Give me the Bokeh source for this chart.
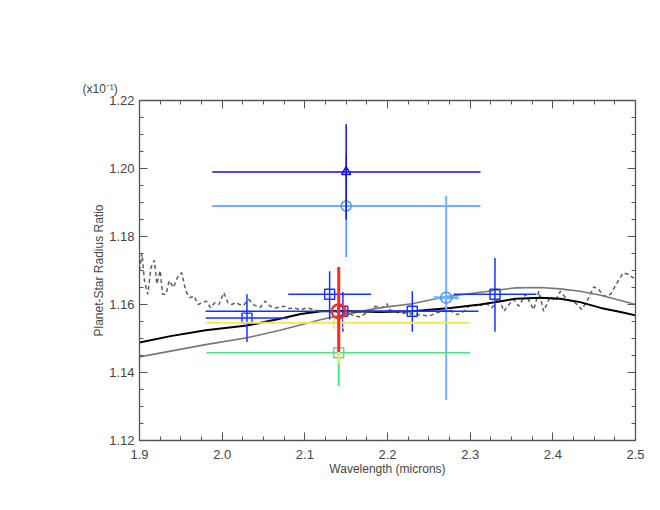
from bokeh.plotting import figure
from bokeh.models import (Range1d, FixedTicker, LinearAxis, ColumnDataSource,
                          CustomJSTickFormatter)
from bokeh.embed import file_html
from bokeh.resources import INLINE

# ---------------- data ----------------
x_ticks = [1.9, 2.0, 2.1, 2.2, 2.3, 2.4, 2.5]
y_ticks = [1.12, 1.14, 1.16, 1.18, 1.20, 1.22]

# noisy model spectrum (grey dashed)
dash_x = [1.900, 1.903, 1.906, 1.910, 1.914, 1.918, 1.921, 1.925, 1.928, 1.932, 1.936, 1.941,
          1.946, 1.951, 1.956, 1.9605, 1.966, 1.971, 1.976, 1.981, 1.986, 1.991, 1.996, 2.002,
          2.007, 2.012, 2.016, 2.021, 2.026, 2.032, 2.039, 2.046, 2.052, 2.058, 2.0645, 2.0746,
          2.081, 2.0867, 2.095, 2.103, 2.109, 2.115, 2.121, 2.127, 2.134, 2.141, 2.148, 2.155,
          2.161, 2.167, 2.175, 2.1855, 2.193, 2.1996, 2.2016, 2.2137, 2.225, 2.2379, 2.250,
          2.2601, 2.2742, 2.2843, 2.2923, 2.3004, 2.3105, 2.3185, 2.3266, 2.3347, 2.3407,
          2.3488, 2.3528, 2.3589, 2.367, 2.377, 2.383, 2.389, 2.397, 2.403, 2.409, 2.417,
          2.427, 2.435, 2.4435, 2.4496, 2.4556, 2.4617, 2.4698, 2.4778, 2.485, 2.492, 2.4972,
          2.500]
dash_y = [1.1700, 1.1750, 1.1670, 1.1630, 1.1710, 1.1730, 1.1660, 1.1700, 1.1630, 1.1630,
          1.1670, 1.1650, 1.1680, 1.1694, 1.1640, 1.1620, 1.1625, 1.1600, 1.1606, 1.1610,
          1.1590, 1.1605, 1.1600, 1.1635, 1.1605, 1.1600, 1.1606, 1.1600, 1.1598, 1.1615,
          1.1598, 1.1591, 1.1610, 1.1595, 1.1590, 1.1595, 1.1588, 1.1590, 1.1585, 1.1590,
          1.1586, 1.1582, 1.1580, 1.1580, 1.1576, 1.1580, 1.1575, 1.1571, 1.1566, 1.1563,
          1.1576, 1.1595, 1.1590, 1.1602, 1.1585, 1.1576, 1.1574, 1.1570, 1.1566, 1.1576,
          1.1585, 1.1570, 1.1580, 1.1600, 1.1595, 1.1605, 1.1590, 1.1620, 1.1580, 1.1605,
          1.1615, 1.1595, 1.1630, 1.1585, 1.1639, 1.1580, 1.1624, 1.1610, 1.1639, 1.1615,
          1.1605, 1.1585, 1.1620, 1.1652, 1.1644, 1.1624, 1.1630, 1.1664, 1.1693, 1.1688,
          1.1678, 1.1690]

# smooth model (black)
m1_x = [1.9, 1.9375, 1.98, 2.03, 2.07, 2.095, 2.12, 2.143, 2.19, 2.23, 2.276, 2.3125,
        2.355, 2.385, 2.409, 2.433, 2.458, 2.482, 2.5]
m1_y = [1.1488, 1.1507, 1.1524, 1.1538, 1.1558, 1.1572, 1.1580, 1.1581, 1.1578, 1.1580,
        1.1590, 1.1600, 1.1617, 1.1620, 1.1617, 1.1607, 1.1590, 1.1578, 1.1568]

# smooth model (grey)
m2_x = [1.9, 1.98, 2.03, 2.07, 2.12, 2.143, 2.19, 2.23, 2.27, 2.3125, 2.355, 2.385,
        2.409, 2.433, 2.458, 2.482, 2.5]
m2_y = [1.1446, 1.1482, 1.1502, 1.1524, 1.1556, 1.1568, 1.1590, 1.1602, 1.1623, 1.1636,
        1.1649, 1.1650, 1.1646, 1.1639, 1.1627, 1.1612, 1.1600]

# blue squares
sq_x = [2.03, 2.13, 2.146, 2.23, 2.33]
sq_y = [1.156, 1.163, 1.158, 1.158, 1.163]
sq_xlo = [1.98, 2.08, 1.98, 2.18, 2.28]
sq_xhi = [2.08, 2.18, 2.31, 2.28, 2.38]
sq_ylo = [1.149, 1.1556, 1.152, 1.152, 1.152]
sq_yhi = [1.163, 1.1698, 1.1637, 1.1639, 1.1737]

# dark-blue triangle
tri_x = [2.15]
tri_y = [1.199]
tri_xlo = [1.988]
tri_xhi = [2.3125]
tri_ylo = [1.185]
tri_yhi = [1.213]

# light-blue circles
lc_x = [2.15]
lc_y = [1.189]
lc_xlo = [1.988]
lc_xhi = [2.3125]
lc_ylo = [1.174]
lc_yhi = [1.204]

lc2_x = [2.271]
lc2_y = [1.162]
lc2_xlo = [2.256]
lc2_xhi = [2.286]
lc2_ylo = [1.132]
lc2_yhi = [1.192]

# green square
gr_x = [2.141]
gr_y = [1.1458]
gr_xlo = [1.981]
gr_xhi = [2.300]
gr_ylo = [1.136]
gr_yhi = [1.156]

# yellow square
ye_x = [2.141]
ye_y = [1.1546]
ye_xlo = [1.981]
ye_xhi = [2.300]
ye_ylo = [1.1425]
ye_yhi = [1.166]

# red circle
rd_x = [2.141]
rd_y = [1.158]
rd_ylo = [1.146]
rd_yhi = [1.171]

# ---------------- figure ----------------
FONT = "Liberation Sans"
p = figure(output_backend="svg", toolbar_location=None,
           x_range=Range1d(1.9, 2.5), y_range=Range1d(1.12, 1.22),
           frame_width=496, frame_height=340,
           min_border_left=139, min_border_right=17, min_border_top=100, min_border_bottom=61,
           x_axis_type=None, y_axis_type=None,
           title="(x10\u207B\u00B9)")
p.grid.visible = False
p.outline_line_color = None
p.background_fill_color = "white"
p.border_fill_color = "white"

p.title.align = "left"
p.title.offset = -57
p.title.standoff = 10
p.title.text_font = "Liberation Sans"
p.title.text_font_size = "12px"
p.title.text_font_style = "normal"
p.title.text_color = "#444444"

AX_COL = "#555555"
LAB_COL = "#444444"


def style_axis(ax, ticks, minor, show_labels):
    ax.ticker = FixedTicker(ticks=ticks, minor_ticks=minor)
    ax.axis_line_color = AX_COL
    ax.axis_line_width = 1.3
    ax.major_tick_line_color = AX_COL
    ax.minor_tick_line_color = AX_COL
    ax.major_tick_in = 8
    ax.major_tick_out = 0
    ax.minor_tick_in = 4
    ax.minor_tick_out = 0
    ax.major_label_text_font = FONT
    if show_labels:
        ax.major_label_text_color = LAB_COL
        ax.major_label_text_font_size = "13px"
    else:
        ax.major_label_text_color = None
        ax.major_label_text_font_size = "1px"
        ax.major_label_standoff = 0
    ax.axis_label_text_font = FONT
    ax.axis_label_text_font_style = "normal"
    ax.axis_label_text_color = LAB_COL
    ax.axis_label_text_font_size = "12px"


x_minor = [round(1.9 + 0.025 * i, 3) for i in range(25)]
y_minor = [round(1.12 + 0.005 * i, 3) for i in range(21)]

xb = LinearAxis()
style_axis(xb, x_ticks, x_minor, True)
xb.formatter = CustomJSTickFormatter(code="return tick.toFixed(1);")
xb.axis_label = "Wavelength (microns)"
xb.major_label_standoff = 9
xb.axis_label_standoff = 0
p.add_layout(xb, "below")

xt = LinearAxis()
style_axis(xt, x_ticks, x_minor, False)
p.add_layout(xt, "above")

yl = LinearAxis()
style_axis(yl, y_ticks, y_minor, True)
yl.formatter = CustomJSTickFormatter(code="return tick.toFixed(2);")
yl.axis_label = "Planet-Star Radius Ratio"
yl.major_label_standoff = 5
yl.axis_label_standoff = 0
p.add_layout(yl, "left")

yr = LinearAxis()
style_axis(yr, y_ticks, y_minor, False)
p.add_layout(yr, "right")

# ---------------- models ----------------
p.line(dash_x, dash_y, line_color="#5e5e5e", line_width=1.5, line_dash="4 3")
p.line(m2_x, m2_y, line_color="#777777", line_width=1.6)
p.line(m1_x, m1_y, line_color="#000000", line_width=2)


def errbars(xs, ys, xlo, xhi, ylo, yhi, color, xw=1.5, yw=1.5):
    src = ColumnDataSource(dict(x=xs, y=ys, xlo=xlo, xhi=xhi, ylo=ylo, yhi=yhi))
    p.segment(x0="xlo", y0="y", x1="xhi", y1="y", source=src, line_color=color, line_width=xw)
    p.segment(x0="x", y0="ylo", x1="x", y1="yhi", source=src, line_color=color, line_width=yw)
    return src


BLUE = "#1034ff"
DBLUE = "#1010dc"
LBLUE = "#3a98ff"
LBLUE2 = "#6cb4ff"
GREEN = "#4be37f"
YELLOW = "#f5e35a"
RED = "#ff2a1a"

# light blue wide circle + triangle
s = errbars(lc_x, lc_y, lc_xlo, lc_xhi, lc_ylo, lc_yhi, LBLUE)
p.scatter("x", "y", source=s, marker="circle", size=10, fill_color=None, line_color=LBLUE, line_width=1.5)
s = errbars(tri_x, tri_y, tri_xlo, tri_xhi, tri_ylo, tri_yhi, DBLUE)
p.scatter("x", "y", source=s, marker="triangle", size=9, fill_color=None, line_color=DBLUE, line_width=1.5)

# light blue circle at 2.27
s = errbars(lc2_x, lc2_y, lc2_xlo, lc2_xhi, lc2_ylo, lc2_yhi, LBLUE2, xw=3, yw=2)
p.scatter("x", "y", source=s, marker="circle", size=11, fill_color=None, line_color=LBLUE, line_width=1.5)

# blue squares
s = errbars(sq_x, sq_y, sq_xlo, sq_xhi, sq_ylo, sq_yhi, BLUE)
p.scatter("x", "y", source=s, marker="square", size=10, fill_color=None, line_color=BLUE, line_width=1.4)

# green, yellow, red
s = errbars(gr_x, gr_y, gr_xlo, gr_xhi, gr_ylo, gr_yhi, GREEN, xw=1.5, yw=2)
p.scatter("x", "y", source=s, marker="square", size=10, fill_color=None, line_color=GREEN, line_width=1.4)
s = errbars(ye_x, ye_y, ye_xlo, ye_xhi, ye_ylo, ye_yhi, YELLOW, xw=2, yw=2.5)
p.scatter("x", "y", source=s, marker="square", size=10, fill_color=None, line_color=YELLOW, line_width=1.4)
src = ColumnDataSource(dict(x=rd_x, y=rd_y, ylo=rd_ylo, yhi=rd_yhi))
p.segment(x0="x", y0="ylo", x1="x", y1="yhi", source=src, line_color=RED, line_width=3)
p.scatter("x", "y", source=src, marker="circle", size=14, fill_color=None, line_color=RED, line_width=2.2)

open("out.html", "w").write(file_html(p, INLINE))
